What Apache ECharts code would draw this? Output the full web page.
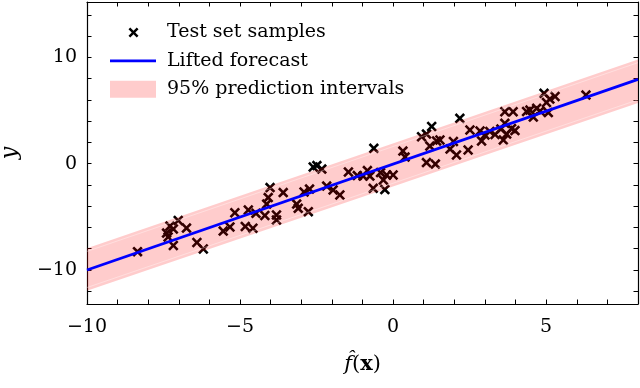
<!DOCTYPE html>
<html>
<head>
<meta charset="utf-8">
<script src="https://cdn.jsdelivr.net/npm/echarts@6/dist/echarts.min.js"></script>
<style>
  html, body { margin: 0; padding: 0; background: #fff; }
  #main { width: 640px; height: 388px; }
</style>
</head>
<body>
<div id="main"></div>
<script>
// test set samples
const sampleX = [-8.35, -7.40, -7.29, -7.18, -7.35, -7.18, -7.02, -6.75, -6.41, -6.20,
  -5.55, -5.33, -5.17, -4.83, -4.58, -4.73, -4.48, -4.19, -4.13, -4.08,
  -4.02, -3.81, -3.81, -3.59, -3.15, -3.10, -2.91, -2.73, -2.77, -2.61,
  -2.49, -2.33, -2.17, -1.96, -1.74, -1.46, -1.17, -0.98, -0.84, -0.76,
  -0.65, -0.63, -0.41, -0.32, -0.21, -0.27, 0.00, 0.32, 0.39, 0.93,
  1.09, 1.26, 1.42, 1.20, 1.09, 1.38, 1.53, 1.86, 1.97, 2.07,
  2.45, 2.18, 2.51, 2.84, 2.89, 3.00, 3.16, 3.33, 3.52, 3.60,
  3.71, 3.87, 3.98, 3.65, 3.65, 3.92, 4.36, 4.47, 4.58, 4.69,
  4.80, 4.93, 5.01, 5.12, 5.29, 5.07, 6.30];
const sampleY = [-8.28, -6.53, -5.87, -6.15, -6.90, -7.70, -5.35, -6.06, -7.42, -8.03,
  -6.34, -5.96, -4.62, -5.91, -6.08, -4.36, -4.67, -4.88, -3.80, -3.19,
  -2.25, -4.83, -5.30, -2.72, -3.80, -4.20, -2.67, -2.39, -4.52, -0.32,
  -0.18, -0.51, -2.11, -2.48, -2.95, -0.79, -1.12, -1.17, -0.65, -1.17,
  -2.32, 1.44, -0.84, -1.54, -1.07, -2.44, -1.07, 1.18, 0.62, 2.53,
  2.78, 3.49, 2.13, 1.65, 0.10, -0.04, 2.22, 1.37, 2.08, 0.81,
  1.28, 4.26, 3.16, 3.07, 2.13, 2.69, 3.02, 2.74, 3.25, 2.22,
  2.78, 3.30, 3.11, 3.79, 4.88, 4.88, 4.90, 5.04, 4.38, 5.20,
  4.95, 6.61, 5.75, 6.07, 6.31, 4.80, 6.45];

// lifted forecast and interval band (ends of the x range)
const forecastX = [-10, 8];
const forecastY = [-10, 7.93];
const bandLower = [-11.95, 5.70];
const bandUpper = [-7.95, 9.80];
const seamLower = [-11.65, 6.00];
const seamUpper = [-8.25, 9.50];

// ticks
const xTicks = [-9, -8, -7, -6, -5, -4, -3, -2, -1, 0, 1, 2, 3, 4, 5, 6, 7];
const xLabels = [-10, -5, 0, 5];
const yTicks = [-12, -10, -8, -6, -4, -2, 0, 2, 4, 6, 8, 10, 12, 14];
const yLabels = [-10, 0, 10];

const serif = 'DejaVu Serif';

// filled "x" marker, 10x10 units, shifted/scaled
function crossPath(ox, oy, s) {
  const pts = [[0,1.75],[1.75,0],[5,3.25],[8.25,0],[10,1.75],[6.75,5],[10,8.25],[8.25,10],[5,6.75],[1.75,10],[0,8.25],[3.25,5]];
  return pts.map((p, i) => (i ? 'L' : 'M') + (ox + p[0] * s) + ',' + (oy + p[1] * s)).join('') + 'Z';
}
const markerPath = 'path://' + crossPath(0, 0, 1);
// legend icons padded to the 46x17 legend box
const boxCorners = ['M0,0L0.01,0L0,0.01Z', 'M46,17L45.99,17L46,16.99Z'];
const legendCross = 'path://' + boxCorners[0] + crossPath(18.5, 3.5, 1) + boxCorners[1];
const legendLine = 'path://' + boxCorners[0] + 'M0,7.1L46,7.1L46,9.9L0,9.9Z' + boxCorners[1];

const minus = v => (v < 0 ? '\u2212' + Math.abs(v) : String(v));

function pairs(xs, ys) { return xs.map((x, i) => [x, ys[i]]); }

const xRange = { min: -10, max: 8 };
const yRange = { min: -13.2, max: 15.2 };
const axisLine = { show: true, onZero: false, lineStyle: { color: '#000', width: 1.2 } };

function xAxisOf(pos, labels) {
  return Object.assign({
    type: 'value', position: pos, gridIndex: 0,
    axisLine: axisLine,
    axisTick: { show: true, inside: true, length: 4.5, customValues: xTicks, lineStyle: { color: '#000', width: 1 } },
    axisLabel: labels ? { show: true, customValues: xLabels, formatter: minus, margin: 14,
      fontFamily: serif, fontSize: 19, color: '#000' } : { show: false },
    splitLine: { show: false }
  }, xRange);
}
function yAxisOf(pos, labels) {
  return Object.assign({
    type: 'value', position: pos, gridIndex: 0,
    axisLine: axisLine,
    axisTick: { show: true, inside: true, length: 4.5, customValues: yTicks, lineStyle: { color: '#000', width: 1 } },
    axisLabel: labels ? { show: true, customValues: yLabels, formatter: minus, margin: 10,
      fontFamily: serif, fontSize: 19, color: '#000' } : { show: false },
    splitLine: { show: false }
  }, yRange);
}

const xMain = xAxisOf('bottom', true);
xMain.name = '{f|f\u0302}{p|(}{b|x}{p|)}';
xMain.nameLocation = 'middle';
xMain.nameGap = 50;
xMain.nameTextStyle = {
  rich: {
    f: { fontFamily: serif, fontStyle: 'italic', fontSize: 21, color: '#000' },
    p: { fontFamily: serif, fontSize: 21, color: '#000' },
    b: { fontFamily: serif, fontWeight: 'bold', fontSize: 21, color: '#000' }
  }
};
const yMain = yAxisOf('left', true);
yMain.name = 'y';
yMain.nameLocation = 'middle';
yMain.nameRotate = 90;
yMain.nameGap = 66;
yMain.nameTextStyle = { fontFamily: serif, fontStyle: 'italic', fontSize: 22, color: '#000' };

// band as filled quads between consecutive x values
function renderBand(params, api) {
  const i = params.dataIndex;
  if (i >= forecastX.length - 1) return null;
  const pts = [
    api.coord([forecastX[i], bandLower[i]]),
    api.coord([forecastX[i + 1], bandLower[i + 1]]),
    api.coord([forecastX[i + 1], bandUpper[i + 1]]),
    api.coord([forecastX[i], bandUpper[i]])
  ];
  return {
    type: 'polygon',
    shape: { points: pts },
    style: { fill: 'rgba(255,0,0,0.2)' }
  };
}

const option = {
  animation: false,
  backgroundColor: '#fff',
  grid: { left: 87, right: 2, top: 2, bottom: 84, outerBoundsMode: 'none', containLabel: false },
  xAxis: [xMain, xAxisOf('top', false)],
  yAxis: [yMain, yAxisOf('right', false)],
  legend: {
    orient: 'vertical', left: 105, top: 18,
    itemWidth: 46, itemHeight: 17, itemGap: 9.4,
    selectedMode: false,
    textStyle: { fontFamily: serif, fontSize: 19, color: '#000', lineHeight: 17, padding: [0, 0, 0, 6] },
    data: [
      { name: 'Test set samples', icon: legendCross, itemStyle: { color: '#000' } },
      { name: 'Lifted forecast', icon: legendLine, itemStyle: { color: '#0000ff' } },
      { name: '95% prediction intervals', icon: 'rect', itemStyle: { color: 'rgba(255,0,0,0.2)' } }
    ]
  },
  series: [
    {
      name: 'Test set samples', type: 'scatter', z: 2,
      symbol: markerPath, symbolSize: 10.5,
      itemStyle: { color: '#000', opacity: 1 },
      data: pairs(sampleX, sampleY)
    },
    {
      name: '95% prediction intervals', type: 'custom', z: 3,
      renderItem: renderBand,
      itemStyle: { color: 'rgba(255,0,0,0.2)' },
      encode: { x: 0, y: [1, 2] },
      data: forecastX.map((x, i) => [x, bandLower[i], bandUpper[i]])
    },
    {
      name: 'seam-low', type: 'line', z: 3, symbol: 'none',
      lineStyle: { color: 'rgba(255,255,255,0.45)', width: 0.8 },
      data: pairs(forecastX, seamLower)
    },
    {
      name: 'seam-high', type: 'line', z: 3, symbol: 'none',
      lineStyle: { color: 'rgba(255,255,255,0.45)', width: 0.8 },
      data: pairs(forecastX, seamUpper)
    },
    {
      name: 'Lifted forecast', type: 'line', z: 4, symbol: 'none',
      itemStyle: { color: '#0000ff' },
      lineStyle: { color: '#0000ff', width: 2.8 },
      data: pairs(forecastX, forecastY)
    }
  ]
};

const myChart = echarts.init(document.getElementById('main'));
myChart.setOption(option);
</script>
</body>
</html>
